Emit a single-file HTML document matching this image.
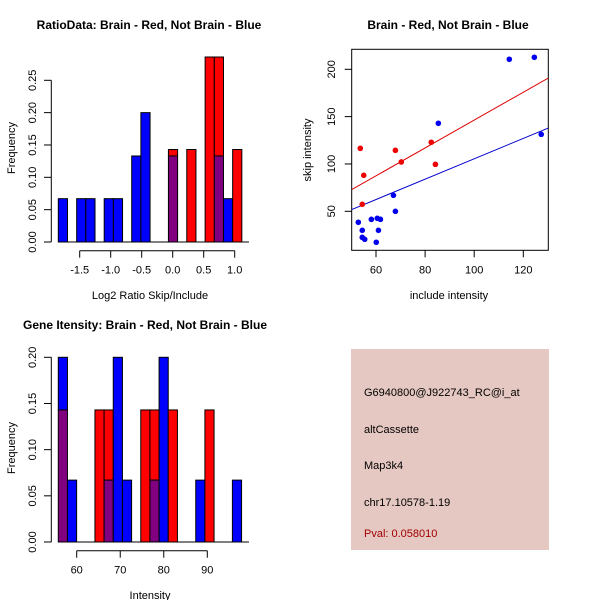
<!DOCTYPE html>
<html><head><meta charset="utf-8"><style>
body{margin:0;background:#fff;}
svg{display:block;font-family:"Liberation Sans",sans-serif;}
</style></head><body>
<svg id="svg" width="600" height="600" viewBox="0 0 600 600">
<rect width="600" height="600" fill="#fff"/>
<g id="p1"></g>
<g id="p2"></g>
<g id="p3"></g>
<g>
<rect x="351" y="349" width="198" height="201" fill="#e6c8c2"/>
<text x="364" y="396" font-size="11" fill="#000">G6940800@J922743_RC@i_at</text>
<text x="364" y="433" font-size="11" fill="#000">altCassette</text>
<text x="364" y="469" font-size="11" fill="#000">Map3k4</text>
<text x="364" y="506" font-size="11" fill="#000">chr17.10578-1.19</text>
<text x="364" y="537" font-size="11" fill="#a00000">Pval: 0.058010</text>
</g>
</svg>
<script>
// Histogram 1 data (bin frequencies)
const ratioBinStart = -1.845;
const ratioBinWidth = 0.148;
const ratioRed  = [0,0,0,0,0,0,0,0,0,0,0,0,0.143,0,0.143,0,0.286,0.286,0,0.143];
const ratioBlue = [0.067,0,0.067,0.067,0,0.067,0.067,0,0.133,0.2,0,0,0.133,0,0,0,0,0.133,0.067,0];
const ratioXTicks = [-1.5,-1.0,-0.5,0.0,0.5,1.0];
const ratioXTickLabels = ["-1.5","-1.0","-0.5","0.0","0.5","1.0"];
const ratioYTicks = [0,0.05,0.10,0.15,0.20,0.25];
const ratioYTickLabels = ["0.00","0.05","0.10","0.15","0.20","0.25"];
// Scatter data
const blueX = [114.3,124.5,85.4,127.3,67.1,67.9,52.8,58.1,60.5,61.8,61,54.4,54.4,55.4,60.1];
const blueY = [210.6,212.7,143,131.3,66.9,50,38.4,41.5,42.6,41.5,29.9,29.9,22.5,20.4,17.3];
const redX = [53.6,67.9,55,70.3,82.5,84.2,54.4];
const redY = [116.5,114.4,88,102.1,122.9,99.6,57.4];
const redFit = [-0.6,1.47];
const blueFit = [-1.9,1.074];
const scatXTicks = [60,80,100,120];
const scatYTicks = [50,100,150,200];
// Histogram 3 data
const geneBinStart = 55.77;
const geneBinWidth = 2.105;
const geneRed  = [0.143,0,0,0,0.143,0.143,0,0,0,0.143,0.143,0,0.143,0,0,0,0.143,0,0,0];
const geneBlue = [0.2,0.067,0,0,0,0.067,0.2,0.067,0,0,0.067,0.2,0,0,0,0.067,0,0,0,0.067];
const geneXTicks = [60,70,80,90];
const geneYTicks = [0,0.05,0.10,0.15,0.20];
const geneYTickLabels = ["0.00","0.05","0.10","0.15","0.20"];

const NS="http://www.w3.org/2000/svg";
function mk(parent,tag,attrs,text){const e=document.createElementNS(NS,tag);for(const k in attrs)e.setAttribute(k,attrs[k]);if(text!==undefined)e.textContent=text;parent.appendChild(e);return e;}
function lin(d0,d1,r0,r1){return v=>r0+(v-d0)*(r1-r0)/(d1-d0);}

function hist(g,o){
  const X=o.x,Y=o.y;
  for(let i=0;i<o.red.length;i++){
    const x0=X(o.start+i*o.width),x1=X(o.start+(i+1)*o.width);
    const r=o.red[i],b=o.blue[i];
    const m=Math.min(r,b),M=Math.max(r,b);
    if(M<=0)continue;
    if(M>m){
      const e=mk(g,'rect',{x:x0,y:Y(M),width:x1-x0,height:Y(m)-Y(M),fill:r>b?'#ff0000':'#0000ff',stroke:'#000','stroke-width':1});
      
      
    }
    if(m>0){
      const e=mk(g,'rect',{x:x0,y:Y(m),width:x1-x0,height:Y(0)-Y(m),fill:'#800080',stroke:'#000','stroke-width':1});
      
      
    }
  }
  const ya=mk(g,'g',{});
  
  
  mk(ya,'line',{x1:51.3,x2:51.3,y1:Y(o.yt[0]),y2:Y(o.yt[o.yt.length-1]),stroke:'#000'});
  o.yt.forEach((t,i)=>{const y=Y(t);mk(ya,'line',{x1:51.3,x2:44,y1:y,y2:y,stroke:'#000'});
    mk(ya,'text',{x:33,y:y,'font-size':11,'text-anchor':'middle',transform:`rotate(-90 33 ${y})`,'dominant-baseline':'central'},o.ytl[i]);});
  const xa=mk(g,'g',{});
  
  
  const ay=Y(0)+8.7;
  mk(xa,'line',{x1:X(o.xt[0]),x2:X(o.xt[o.xt.length-1]),y1:ay,y2:ay,stroke:'#000'});
  o.xt.forEach((t,i)=>{const x=X(t);mk(xa,'line',{x1:x,x2:x,y1:ay,y2:ay+7,stroke:'#000'});
    mk(xa,'text',{x:x,y:ay+23,'font-size':11,'text-anchor':'middle'},o.xtl[i]);});
  mk(g,'line',{x1:58,x2:249,y1:Y(0),y2:Y(0),stroke:'#000'});
  const t=mk(g,'text',{x:o.tx,y:o.ty,'font-size':12,'font-weight':'bold','text-anchor':'middle'},o.title);
  
  
  const xl=mk(g,'text',{x:150,y:o.xly,'font-size':11,'text-anchor':'middle'},o.xlabel);
  
  
  const yl=mk(g,'text',{x:12,y:o.yly,'font-size':11,'text-anchor':'middle',transform:`rotate(-90 12 ${o.yly})`,'dominant-baseline':'central'},'Frequency');
  
  
}

hist(document.getElementById('p1'),{
  x:lin(-1.5,1.0,79.7,234.7),y:lin(0,0.25,242,80.3),
  start:ratioBinStart,width:ratioBinWidth,red:ratioRed,blue:ratioBlue,
  xt:ratioXTicks,xtl:ratioXTickLabels,yt:ratioYTicks,ytl:ratioYTickLabels,
  title:'RatioData: Brain - Red, Not Brain - Blue',tx:149,ty:29,xlabel:'Log2 Ratio Skip/Include',xly:299,yly:148});
hist(document.getElementById('p3'),{
  x:lin(60,90,76.7,207.3),y:lin(0,0.20,542,357.3),
  start:geneBinStart,width:geneBinWidth,red:geneRed,blue:geneBlue,
  xt:geneXTicks,xtl:geneXTicks.map(String),yt:geneYTicks,ytl:geneYTickLabels,
  title:'Gene Itensity: Brain - Red, Not Brain - Blue',tx:145,ty:329,xlabel:'Intensity',xly:599,yly:448});

(function(){
  const g=document.getElementById('p2');
  const X=lin(60,120,376,523.3),Y=lin(50,200,211.3,69.3);
  const x0=351.7,x1=548.3,y0=49.3,y1=250.3;
  const fr=mk(g,'rect',{x:x0,y:y0,width:x1-x0,height:y1-y0,fill:'none',stroke:'#000'});
  
  
  const xa=mk(g,'g',{});
  
  
  scatXTicks.forEach(t=>{const x=X(t);mk(xa,'line',{x1:x,x2:x,y1:y1,y2:y1+7,stroke:'#000'});
    mk(xa,'text',{x:x,y:y1+23,'font-size':11,'text-anchor':'middle'},String(t));});
  const ya=mk(g,'g',{});
  
  
  scatYTicks.forEach(t=>{const y=Y(t);mk(ya,'line',{x1:x0,x2:x0-7,y1:y,y2:y,stroke:'#000'});
    mk(ya,'text',{x:332,y:y,'font-size':11,'text-anchor':'middle',transform:`rotate(-90 332 ${y})`,'dominant-baseline':'central'},String(t));});
  const cp=mk(g,'clipPath',{id:'clp'});mk(cp,'rect',{x:x0,y:y0,width:x1-x0,height:y1-y0});
  function fit(c,col,name){const l=mk(g,'line',{x1:x0,x2:x1,y1:Y(c[0]+c[1]*50),y2:Y(c[0]+c[1]*130.2),stroke:col,'clip-path':'url(#clp)'});
    
    }
  fit(redFit,'#dd0000','red-fit-line');
  fit(blueFit,'#0000cc','blue-fit-line');
  blueX.forEach((v,i)=>{const c=mk(g,'circle',{cx:X(v),cy:Y(blueY[i]),r:2.8,fill:'#0000ee'});
    
    });
  redX.forEach((v,i)=>{const c=mk(g,'circle',{cx:X(v),cy:Y(redY[i]),r:2.8,fill:'#ee0000'});
    
    });
  const t=mk(g,'text',{x:448,y:29,'font-size':12,'font-weight':'bold','text-anchor':'middle'},'Brain - Red, Not Brain - Blue');
  
  
  const xl=mk(g,'text',{x:449,y:299,'font-size':11,'text-anchor':'middle'},'include intensity');
  
  
  const yl=mk(g,'text',{x:308,y:150,'font-size':11,'text-anchor':'middle',transform:'rotate(-90 308 150)','dominant-baseline':'central'},'skip intensity');
  
  
})();
</script>
</body></html>
